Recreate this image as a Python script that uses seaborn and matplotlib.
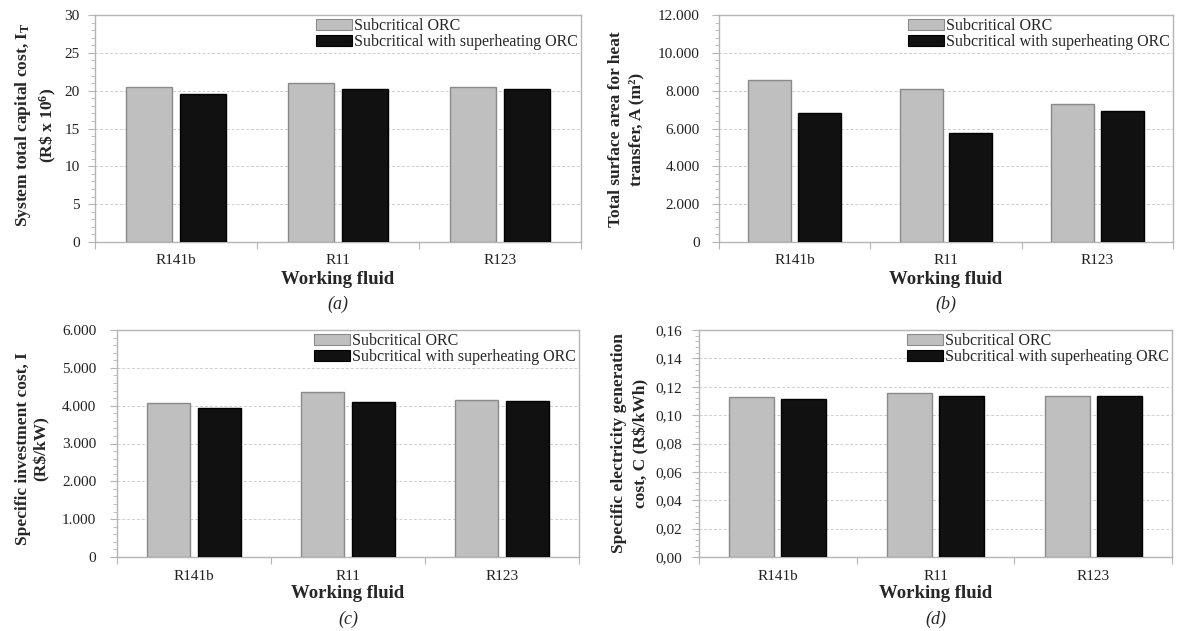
import matplotlib
matplotlib.use("Agg")
import numpy as np
import pandas as pd
import seaborn as sns
import matplotlib.pyplot as plt
from matplotlib.ticker import MultipleLocator, AutoMinorLocator, FuncFormatter, FixedLocator
from matplotlib.patches import Patch

# ---------------- data ----------------
fluids = ["R141b", "R11", "R123"]
series = ["Subcritical ORC", "Subcritical with superheating ORC"]

capital_sub = [20.5, 21.0, 20.5]
capital_sup = [19.6, 20.2, 20.25]
area_sub = [8550, 8080, 7290]
area_sup = [6830, 5750, 6950]
invest_sub = [4064, 4364, 4144]
invest_sup = [3932, 4100, 4117]
elec_sub = [0.1127, 0.1155, 0.1136]
elec_sup = [0.1113, 0.1132, 0.1134]

xlabel_text = "Working fluid"

# ---------------- style ----------------
sns.set_style("white")
plt.rcParams["font.family"] = ["Liberation Serif", "DejaVu Serif"]
plt.rcParams["mathtext.fontset"] = "custom"
plt.rcParams["mathtext.rm"] = "Liberation Serif"
plt.rcParams["mathtext.bf"] = "Liberation Serif:bold"
plt.rcParams["mathtext.it"] = "Liberation Serif:italic"

W, H = 1177, 631
fig = plt.figure(figsize=(W / 100, H / 100), dpi=100)

GRAY = "#bfbfbf"
GRAY_EDGE = "#8a8a8a"
BLACK = "#111111"
BLACK_EDGE = "#000000"
SPINE = "#b5b5b5"


def rect(l, t, r, b):
    return [l / W, 1 - b / H, (r - l) / W, (b - t) / H]


def fmt_int(v, pos):
    return f"{int(round(v))}"


def fmt_thousands(v, pos):
    return f"{int(round(v)):,}".replace(",", ".")


def fmt_comma(v, pos):
    return f"{v:.2f}".replace(".", ",")


panels = [
    dict(pos=rect(95, 15, 581, 242), sub=capital_sub, sup=capital_sup,
         ylabel="System total capital cost, I$_\\mathbf{T}$\n(R\\$ x 10$^\\mathbf{6}$)",
         ymax=30, step=5, fmt=fmt_int, cap="(a)", ylab_xy=(-0.121, 0.515), ls=1.35, pad=6),
    dict(pos=rect(719, 15, 1173, 242), sub=area_sub, sup=area_sup,
         ylabel="Total surface area for heat\ntransfer, A (m²)",
         ymax=12000, step=2000, fmt=fmt_thousands, cap="(b)", ylab_xy=(-0.204, 0.498), ls=1.4, pad=9),
    dict(pos=rect(117, 330, 579, 557), sub=invest_sub, sup=invest_sup,
         ylabel="Specific investment cost, I\n(R$/kW)",
         ymax=6000, step=1000, fmt=fmt_thousands, cap="(c)", ylab_xy=(-0.183, 0.476), ls=1.2, pad=10),
    dict(pos=rect(699, 330, 1172, 557), sub=elec_sub, sup=elec_sup,
         ylabel="Specific electricity generation\ncost, C (R$/kWh)",
         ymax=0.16, step=0.02, fmt=fmt_comma, cap="(d)", ylab_xy=(-0.146, 0.502), ls=1.5, pad=7),
]

for p in panels:
    ax = fig.add_axes(p["pos"])
    df = pd.DataFrame({
        "fluid": fluids * 2,
        "cycle": [series[0]] * len(fluids) + [series[1]] * len(fluids),
        "value": list(p["sub"]) + list(p["sup"]),
    })
    sns.barplot(data=df, x="fluid", y="value", hue="cycle", order=fluids,
                hue_order=series, palette=[GRAY, BLACK], width=0.66, gap=0.14,
                linewidth=1.0, errorbar=None, legend=False, ax=ax, zorder=3)
    for cont, ec in zip(ax.containers, [GRAY_EDGE, BLACK_EDGE]):
        for bar in cont:
            bar.set_edgecolor(ec)
            bar.set_linewidth(1.0)

    ax.set_xlim(-0.5, 2.5)
    ax.set_ylim(0, p["ymax"])
    ax.yaxis.set_major_locator(MultipleLocator(p["step"]))
    ax.yaxis.set_minor_locator(AutoMinorLocator(5))
    ax.yaxis.set_major_formatter(FuncFormatter(p["fmt"]))
    ax.set_xticks(range(len(fluids)))
    ax.set_xticklabels(fluids)
    ax.xaxis.set_minor_locator(FixedLocator([-0.5, 0.5, 1.5, 2.5]))

    ax.tick_params(axis="y", which="major", direction="out", length=5, width=0.8,
                   color=SPINE, labelsize=11, pad=p["pad"], left=True, labelcolor="#222222")
    ax.tick_params(axis="y", which="minor", direction="out", length=3, width=0.6,
                   color=SPINE, left=True)
    ax.tick_params(axis="x", which="major", length=0, labelsize=11, pad=9, labelcolor="#222222")
    ax.tick_params(axis="x", which="minor", direction="out", length=5, width=0.8,
                   color=SPINE, bottom=True)

    ax.yaxis.grid(True, which="major", linestyle=(0, (3, 2)), color="#cfcfcf", linewidth=0.7)
    ax.xaxis.grid(False)
    ax.set_axisbelow(True)
    for s in ax.spines.values():
        s.set_visible(True)
        s.set_color(SPINE)
        s.set_linewidth(1.0)

    ax.set_ylabel(p["ylabel"], fontsize=12.5, fontweight="bold", va="center", ha="center",
                  multialignment="center", linespacing=p["ls"])
    ax.yaxis.set_label_coords(*p["ylab_xy"])

    ax.set_xlabel(xlabel_text, fontsize=13.5, fontweight="bold", va="center")
    ax.xaxis.set_label_coords(0.5, -37 / 227)

    ax.text(0.5, -62 / 227, p["cap"], transform=ax.transAxes, ha="center", va="center",
            fontsize=13, fontstyle="italic")

    handles = [Patch(facecolor=GRAY, edgecolor=GRAY_EDGE, linewidth=0.8),
               Patch(facecolor=BLACK, edgecolor=BLACK_EDGE, linewidth=0.8)]
    ax.legend(handles, series, loc="upper right", bbox_to_anchor=(1.0, 1.0),
              frameon=False, fontsize=11.5, handlelength=2.25, handleheight=0.6,
              handletextpad=0.15, labelspacing=0.0, borderaxespad=0.1, borderpad=0.1)

fig.savefig("out.png", dpi=100, facecolor="white")
